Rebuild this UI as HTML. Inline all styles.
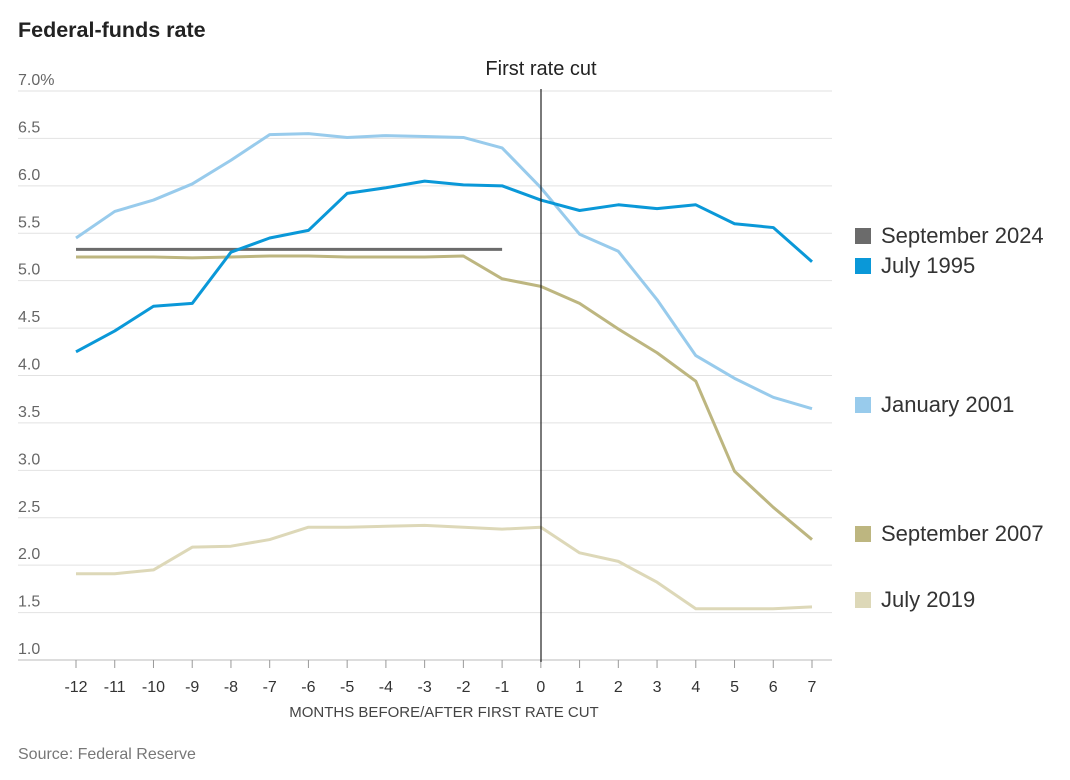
<!DOCTYPE html>
<html><head><meta charset="utf-8"><style>
body{margin:0;background:#fff;font-family:"Liberation Sans",sans-serif}
svg text{font-family:"Liberation Sans",sans-serif}
</style></head><body>
<svg id="c" width="1070" height="775">
<text x="18" y="37" font-size="21.5" font-weight="bold" fill="#222">Federal-funds rate</text>
<g id="grid"></g><g id="lines"></g><g id="legend"></g>
<line x1="541" y1="89" x2="541" y2="662" stroke="#222" stroke-width="1.2"/>
<text x="541" y="75" font-size="20" text-anchor="middle" fill="#222">First rate cut</text>
<text x="444" y="717" font-size="15" text-anchor="middle" fill="#444">MONTHS BEFORE/AFTER FIRST RATE CUT</text>
<text x="18" y="759" font-size="16" fill="#777">Source: Federal Reserve</text>
</svg>
<script>
const months=[-12,-11,-10,-9,-8,-7,-6,-5,-4,-3,-2,-1,0,1,2,3,4,5,6,7];
const yTicks=[7,6.5,6,5.5,5,4.5,4,3.5,3,2.5,2,1.5,1];
const yTickLabels=["7.0%","6.5","6.0","5.5","5.0","4.5","4.0","3.5","3.0","2.5","2.0","1.5","1.0"];
const seriesNames=["September 2024","July 1995","January 2001","September 2007","July 2019"];
const sep2024=[5.33,5.33,5.33,5.33,5.33,5.33,5.33,5.33,5.33,5.33,5.33,5.33];
const jul1995=[4.25,4.47,4.73,4.76,5.30,5.45,5.53,5.92,5.98,6.05,6.01,6.00,5.85,5.74,5.80,5.76,5.80,5.60,5.56,5.20];
const jan2001=[5.45,5.73,5.85,6.02,6.27,6.54,6.55,6.51,6.53,6.52,6.51,6.40,5.98,5.49,5.31,4.80,4.21,3.97,3.77,3.65];
const sep2007=[5.25,5.25,5.25,5.24,5.25,5.26,5.26,5.25,5.25,5.25,5.26,5.02,4.94,4.76,4.49,4.24,3.94,2.99,2.61,2.27];
const jul2019=[1.91,1.91,1.95,2.19,2.20,2.27,2.40,2.40,2.41,2.42,2.40,2.38,2.40,2.13,2.04,1.82,1.54,1.54,1.54,1.56];
const NS="http://www.w3.org/2000/svg";
const x=m=>76+(m+12)*(812-76)/19;
const y=v=>660-(v-1)*(660-91)/6;
function mk(t,a,p){const e=document.createElementNS(NS,t);for(const k in a)e.setAttribute(k,a[k]);p.appendChild(e);return e;}
const grid=document.getElementById('grid');
yTicks.forEach((v,i)=>{
 const l=mk('line',{x1:18,x2:832,y1:y(v),y2:y(v),stroke:i==yTicks.length-1?'#bbb':'#e2e2e2','stroke-width':1},grid);
 
 
 const t=mk('text',{x:18,y:y(v)-6,'font-size':16,fill:'#666'},grid);t.textContent=yTickLabels[i];
 
 
});
months.forEach(m=>{
 const l=mk('line',{x1:x(m),x2:x(m),y1:660,y2:668,stroke:'#999'},grid);
 
 
 const t=mk('text',{x:x(m),y:692,'font-size':16,fill:'#333','text-anchor':'middle'},grid);t.textContent=String(m);
 
 
});
const data=[sep2024,jul1995,jan2001,sep2007,jul2019];
const colors=['#6b6b6b','#0a98d8','#98cbec','#bdb680','#ddd8b8'];
const order=[4,3,2,0,1];
const lines=document.getElementById('lines');
order.forEach(i=>{
 const pts=data[i].map((v,j)=>x(months[j])+','+y(v)).join(' ');
 const p=mk('polyline',{points:pts,fill:'none',stroke:colors[i],'stroke-width':3,'stroke-linejoin':'round'},lines);
 
 
});
const legY=[236,266,405,534,600];
const leg=document.getElementById('legend');
seriesNames.forEach((n,i)=>{
 const r=mk('rect',{x:855,y:legY[i]-8,width:16,height:16,fill:colors[i]},leg);
 
 
 const t=mk('text',{x:881,y:legY[i]+7,'font-size':22,fill:'#333'},leg);t.textContent=n;
 
 
});
</script>
</body></html>
